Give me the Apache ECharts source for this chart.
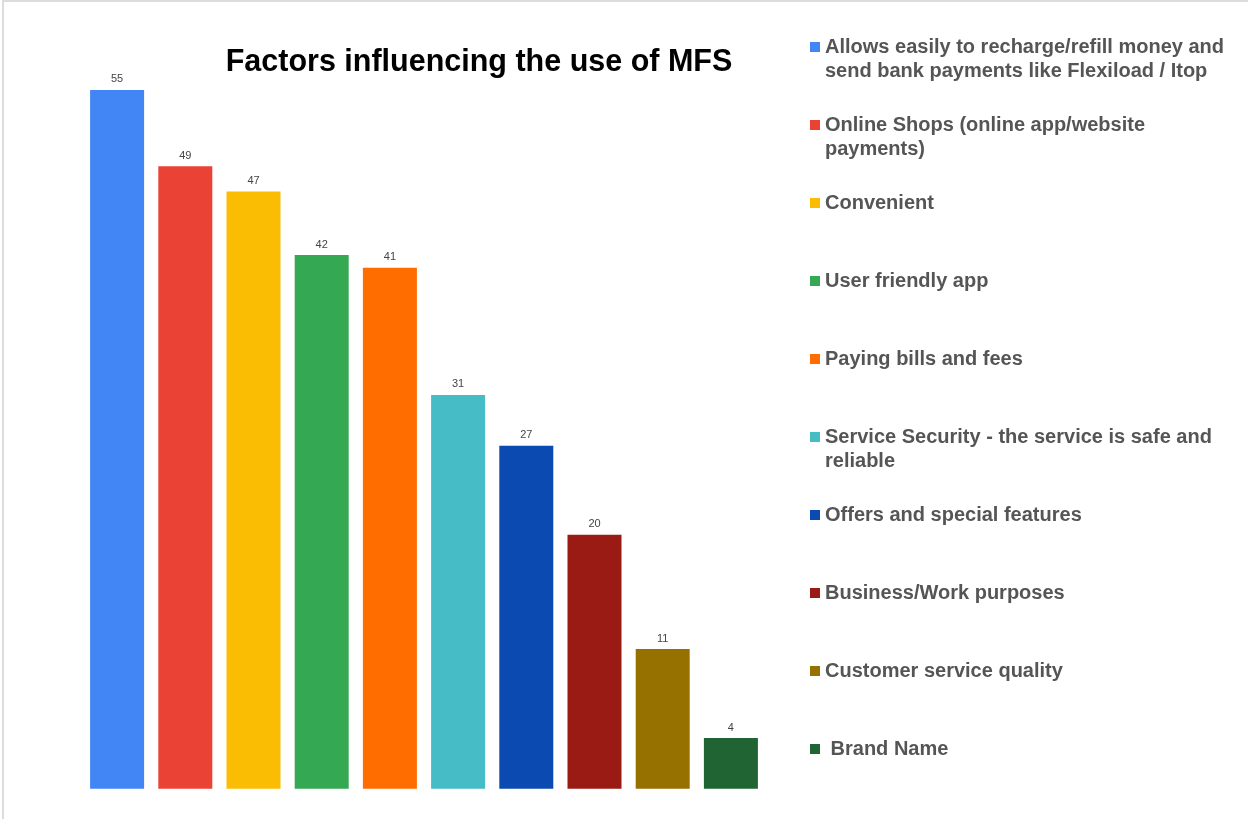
<!DOCTYPE html>
<html>
<head>
<meta charset="utf-8">
<script src="https://cdn.jsdelivr.net/npm/echarts@6/dist/echarts.min.js"></script>
<style>
  html, body { margin: 0; padding: 0; background: #fff; }
  #chart { width: 1248px; height: 819px; }
  #frame {
    position: absolute; left: 2px; top: 0; width: 1246px; height: 819px;
    border-top: 2px solid #dcdcdc; border-left: 2px solid #dcdcdc;
    box-sizing: border-box; pointer-events: none;
  }
</style>
</head>
<body>
<div id="chart"></div>
<div id="frame"></div>
<script>
// Survey responses: factors influencing the use of mobile financial services
const categories = [
  'Allows easily to recharge/refill money and send bank payments like Flexiload / Itop',
  'Online Shops (online app/website payments)',
  'Convenient',
  'User friendly app',
  'Paying bills and fees',
  'Service Security - the service is safe and reliable',
  'Offers and special features',
  'Business/Work purposes',
  'Customer service quality',
  ' Brand Name'
];
const values = [55, 49, 47, 42, 41, 31, 27, 20, 11, 4];
const colors = [
  '#4285F4', '#EA4335', '#FBBC04', '#34A853', '#FF6D01',
  '#46BDC6', '#0B4AB0', '#9A1B13', '#977100', '#1F6432'
];
// Legend text as it wraps in the side panel
const legendLabels = [
  'Allows easily to recharge/refill money and\nsend bank payments like Flexiload / Itop',
  'Online Shops (online app/website\npayments)',
  'Convenient',
  'User friendly app',
  'Paying bills and fees',
  'Service Security - the service is safe and\nreliable',
  'Offers and special features',
  'Business/Work purposes',
  'Customer service quality',
  ' Brand Name'
];

const chart = echarts.init(document.getElementById('chart'), null, { renderer: 'canvas' });

// One series per factor so every bar gets its own legend entry
const series = categories.map((name, i) => ({
  name: name,
  type: 'bar',
  stack: 'all',
  barWidth: 54,
  itemStyle: { color: colors[i] },
  label: {
    show: true,
    position: 'top',
    distance: 5,
    color: '#444',
    fontSize: 11,
    fontFamily: 'Liberation Sans, Arial, sans-serif'
  },
  data: categories.map((c, j) => (j === i ? values[i] : null))
}));

// Every legend row is three lines tall, so the icon (centred on the block)
// sits beside the first line of text and the rows stay evenly spaced
function legendText(name) {
  const lines = legendLabels[categories.indexOf(name)].split('\n');
  return lines.length === 2 ? '\n' + lines.join('\n') : '\n' + lines[0] + '\n';
}

chart.setOption({
  animation: false,
  backgroundColor: '#fff',
  title: {
    text: 'Factors influencing the use of MFS',
    left: 474,
    textAlign: 'center',
    top: 42,
    textStyle: {
      fontFamily: 'Liberation Sans, Arial, sans-serif',
      fontWeight: 'bold',
      fontSize: 30.5,
      color: '#000'
    }
  },
  legend: {
    orient: 'vertical',
    left: 810,
    top: 11,
    padding: 0,
    itemGap: 6,
    itemWidth: 10,
    itemHeight: 10,
    icon: 'rect',
    selectedMode: false,
    data: categories,
    formatter: legendText,
    textStyle: {
      fontFamily: 'Liberation Sans, Arial, sans-serif',
      fontWeight: 'bold',
      fontSize: 20,
      lineHeight: 24,
      color: '#555'
    }
  },
  grid: { left: 83, right: 483, top: 26.4, bottom: 30.2 },
  xAxis: {
    type: 'category',
    data: categories,
    show: false
  },
  yAxis: {
    type: 'value',
    min: 0,
    max: 60,
    show: false
  },
  series: series
});
</script>
</body>
</html>
